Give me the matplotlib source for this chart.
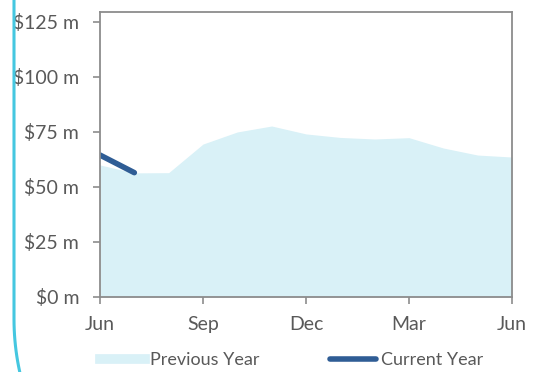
import numpy as np
import matplotlib.pyplot as plt
from matplotlib.lines import Line2D

plt.rcParams['font.family'] = ['Lato', 'DejaVu Sans']

months = ['Jun', 'Jul', 'Aug', 'Sep', 'Oct', 'Nov', 'Dec',
          'Jan', 'Feb', 'Mar', 'Apr', 'May', 'Jun']
previous_year = [60, 56.4, 56.5, 69.5, 75, 77.7, 74.1, 72.5, 71.8, 72.4, 67.7, 64.5, 63.6]
current_year = [64.5, 56.5]
y_ticks = [0, 25, 50, 75, 100, 125]
x_ticks = [0, 3, 6, 9, 12]

fill_col = '#d9f1f7'
line_col = '#2f5d95'
axis_col = '#8c8c8c'
text_col = '#595959'

fig = plt.figure(figsize=(5.35, 3.72), dpi=100)
ax = fig.add_axes([100 / 535, 1 - 297 / 372, 412 / 535, 285 / 372])

x = list(range(len(previous_year)))
ax.fill_between(x, previous_year, 0, color=fill_col, lw=0)
ax.plot(range(len(current_year)), current_year, color=line_col, lw=4,
        solid_capstyle='round')

ax.set_xlim(0, 12)
ax.set_ylim(0, 129.5)
ax.set_xticks(x_ticks)
ax.set_xticklabels([months[i] for i in x_ticks])
ax.set_yticks(y_ticks)
ax.set_yticklabels(['$%d m' % v for v in y_ticks])

for s in ax.spines.values():
    s.set_color(axis_col)
    s.set_linewidth(1.3)
ax.tick_params(axis='both', colors=axis_col, labelcolor=text_col,
               labelsize=14, width=1.2, length=5)
ax.tick_params(axis='y', pad=10)
ax.tick_params(axis='x', pad=9)

handles = [Line2D([], [], color=fill_col, lw=7),
           Line2D([], [], color=line_col, lw=4, solid_capstyle='round')]
leg = fig.legend(handles, ['Previous Year', 'Current Year'], ncol=2,
                 loc='center', bbox_to_anchor=(0.545, 1 - 360 / 372),
                 frameon=False, fontsize=13, handlelength=2.5,
                 handletextpad=0.3, columnspacing=3.9, borderaxespad=0)
for t in leg.get_texts():
    t.set_color(text_col)

# card border on the left (rounded corner below the picture)
r = 247
th = np.linspace(np.pi, 1.2 * np.pi, 30)
bx = np.concatenate([[14, 14], 14 + r + r * np.cos(th)])
by = np.concatenate([[372, 53], 53 + r * np.sin(th)])
fig.add_artist(Line2D(bx, by, transform=None, color='#45c7e0', lw=2.2))

fig.savefig('out.png', dpi=100)
